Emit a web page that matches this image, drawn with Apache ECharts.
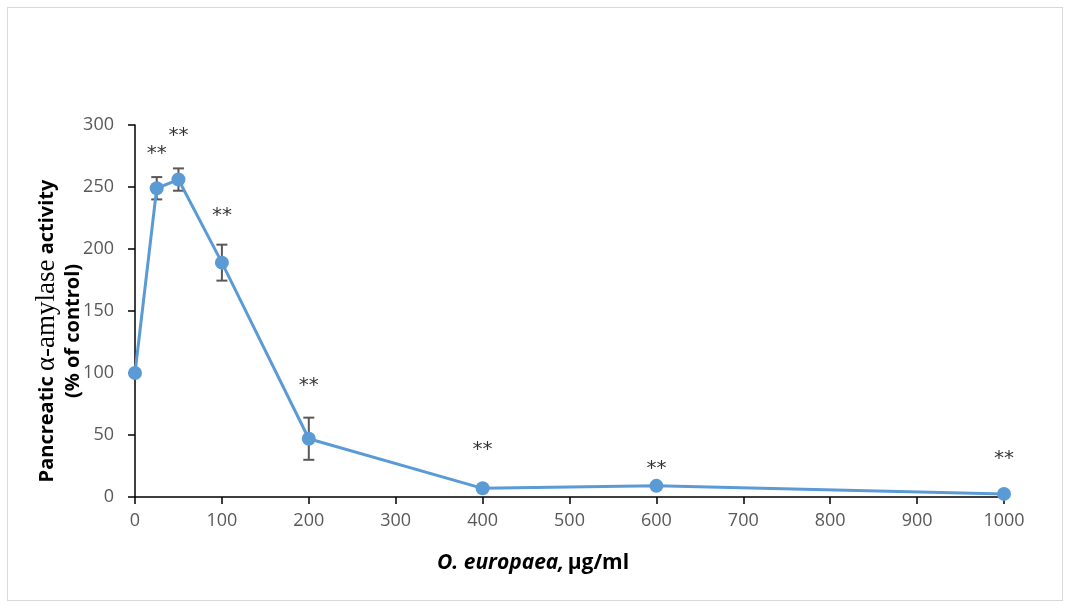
<!DOCTYPE html>
<html>
<head>
<meta charset="UTF-8">
<title>O. europaea amylase</title>
<script src="https://cdn.jsdelivr.net/npm/echarts@6/dist/echarts.min.js"></script>
<style>
  html, body { margin: 0; padding: 0; background: #fff; }
  #frame { position: absolute; left: 7px; top: 7px; width: 1054px; height: 592px; border: 1px solid #d9d9d9; }
  #main { position: absolute; left: 0; top: 0; width: 1068px; height: 608px; }
</style>
</head>
<body>
<div id="frame"></div>
<div id="main"></div>
<script>
// concentration (µg/ml) and activity (% of control)
var doses = [0, 25, 50, 100, 200, 400, 600, 1000];
var activity = [100, 249, 256, 189, 47, 7, 9, 2.5];
var errors = [0, 9, 9, 14.5, 17, 0, 0, 0];
// where the "**" marks sit (value units), none for control
var starY = [null, 277, 291, 227, 90, 38, 23, 31];

var myChart = echarts.init(document.getElementById('main'));

var lineData = doses.map(function (d, i) { return [d, activity[i]]; });
var errData = doses.map(function (d, i) { return [d, activity[i] - errors[i], activity[i] + errors[i]]; })
    .filter(function (e, i) { return errors[i] > 0; });
var starData = doses.map(function (d, i) { return [d, starY[i]]; })
    .filter(function (e) { return e[1] != null; });

var option = {
    backgroundColor: 'transparent',
    animation: false,
    grid: { left: 135, right: 64, top: 125, bottom: 111 },
    graphic: [{
        // y axis title
        type: 'text',
        x: 60, y: 331,
        rotation: Math.PI / 2,
        style: {
            text: '{b|Pancreatic }{s|α-amylase}{b| activity}\n{b|(% of control)}',
            align: 'center',
            verticalAlign: 'middle',
            rich: {
                b: { fontFamily: 'Open Sans', fontSize: 20, fontWeight: 'bold', fill: '#000', lineHeight: 26, align: 'center' },
                s: { fontFamily: 'Liberation Serif', fontSize: 27, fill: '#000', lineHeight: 26 }
            }
        }
    }, {
        // x axis title
        type: 'text',
        x: 533, y: 563,
        style: {
            text: '{i|O. europaea,} {b|µg/ml}',
            align: 'center',
            verticalAlign: 'middle',
            rich: {
                i: { fontFamily: 'Open Sans', fontSize: 21, fontWeight: 'bold', fontStyle: 'italic', fill: '#000' },
                b: { fontFamily: 'Open Sans', fontSize: 21, fontWeight: 'bold', fill: '#000' }
            }
        }
    }],
    xAxis: {
        type: 'value',
        min: 0, max: 1000, interval: 100,
        axisLine: { lineStyle: { color: '#000', width: 1.5 } },
        axisTick: { show: true, length: 7, lineStyle: { color: '#000', width: 1.5 } },
        axisLabel: {
            color: '#595959', fontFamily: 'Open Sans', fontSize: 18, margin: 15,
            formatter: function (v) { return String(v); }
        },
        splitLine: { show: false }
    },
    yAxis: {
        type: 'value',
        min: 0, max: 300, interval: 50,
        axisLine: { show: true, lineStyle: { color: '#000', width: 1.5 } },
        axisTick: { show: true, length: 7, lineStyle: { color: '#000', width: 1.5 } },
        axisLabel: { color: '#595959', fontFamily: 'Open Sans', fontSize: 18, margin: 21 },
        splitLine: { show: false }
    },
    series: [{
        name: 'activity',
        type: 'line',
        data: lineData,
        symbol: 'circle',
        symbolSize: 14,
        lineStyle: { color: '#5b9bd5', width: 3 },
        itemStyle: { color: '#5b9bd5' },
        z: 3
    }, {
        name: 'error',
        type: 'custom',
        data: errData,
        z: 2,
        renderItem: function (params, api) {
            var lo = api.coord([api.value(0), api.value(1)]);
            var hi = api.coord([api.value(0), api.value(2)]);
            var w = 5.5;
            var st = { stroke: '#595959', lineWidth: 2 };
            return {
                type: 'group',
                children: [
                    { type: 'line', shape: { x1: lo[0], y1: lo[1], x2: hi[0], y2: hi[1] }, style: st },
                    { type: 'line', shape: { x1: lo[0] - w, y1: lo[1], x2: lo[0] + w, y2: lo[1] }, style: st },
                    { type: 'line', shape: { x1: hi[0] - w, y1: hi[1], x2: hi[0] + w, y2: hi[1] }, style: st }
                ]
            };
        }
    }, {
        name: 'stars',
        type: 'scatter',
        data: starData,
        symbolSize: 0,
        silent: true,
        label: {
            show: true,
            position: 'inside',
            formatter: '**',
            color: '#000',
            fontFamily: 'DejaVu Sans',
            fontSize: 20
        }
    }]
};
myChart.setOption(option);
</script>
</body>
</html>
